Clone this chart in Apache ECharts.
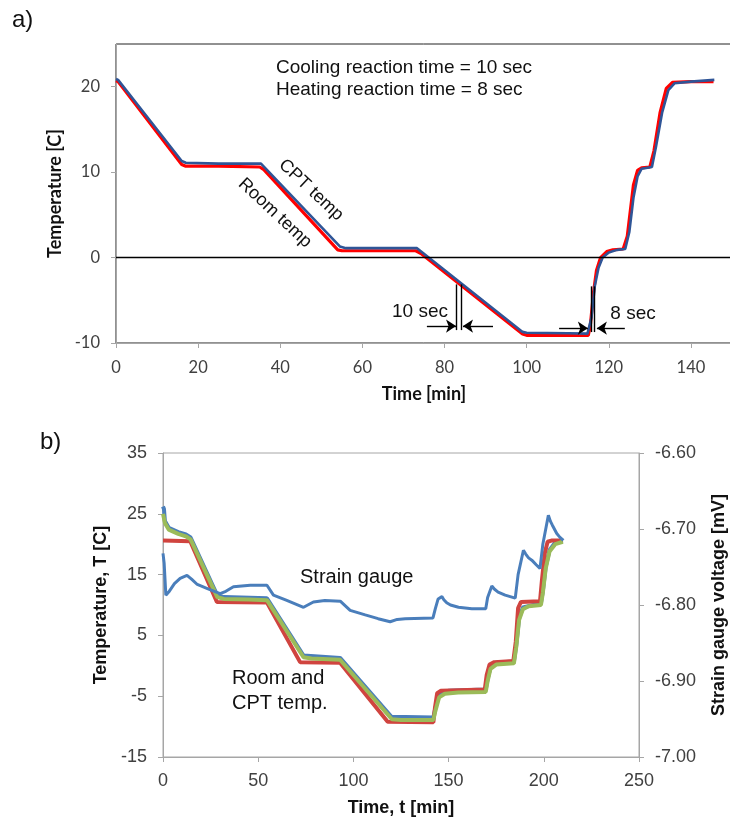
<!DOCTYPE html>
<html>
<head>
<meta charset="utf-8">
<script src="https://cdn.jsdelivr.net/npm/echarts@6/dist/echarts.min.js"></script>
<style>
  html, body { margin: 0; padding: 0; background: #fff; }
  #main { width: 730px; height: 820px; }
</style>
</head>
<body>
<div id="main"></div>
<script>
// ---- panel a) : [time min, temperature C]
var roomA = [[0,20.7],[0.5,20.6],[16,10.9],[17,10.7],[25,10.7],[35,10.6],[36,10.3],[54,0.9],[55,0.8],[73,0.8],[74.5,0.4],
  [99,-8.95],[100,-9.1],[115,-9.1],[115.5,-8],[116.3,-4],[117,-1.5],[118,0],[119.5,0.7],[121,0.9],[123.5,1.0],
  [124.5,2.5],[126,8.5],[127,10.2],[128,10.5],[130,10.6],[131,12.5],[132.5,17],[134,19.8],[135.5,20.5],[140,20.6],[145.5,20.6]];
var cptA = [[0,20.9],[0.5,20.8],[16,11.3],[17,11.1],[25,11.0],[35.3,11.0],[54.5,1.3],[56,1.1],[73.3,1.1],[99,-8.7],
  [100,-8.8],[110,-8.85],[114.8,-8.9],[115.8,-7],[116.6,-3.3],[117.5,-1.2],[118.5,0],[120,0.6],[122,0.9],[124,1.0],
  [125,3],[126,7],[127,9.5],[128,10.4],[130.5,10.6],[131.5,13],[133,17],[134.5,19.6],[136,20.4],[140,20.6],[145.7,20.8]];
// reaction-time markers (data coords)
var coolMark = { left: [75.7, 82.8], right: [91.8, 84.5], arrowY: -8.02, bars: [82.95, 84.17], barTop: -3.14, barBot: -8.49 };
var heatMark = { left: [107.9, 114.9], right: [123.9, 117.1], arrowY: -8.26, bars: [115.8, 116.5], barTop: -3.37, barBot: -8.72 };

// ---- panel b) : [time min, value]
var tempBlueB = [[0,26.2],[0.5,25.8],[1,23.8],[3,22.7],[8,22.0],[12,21.6],[14.5,21.1],[28.5,11.6],[32,11.3],[54.6,11.1],
  [73.8,1.7],[93,1.3],[120,-8.4],[142,-8.5],[143,-7],[145,-4.8],[150,-4.1],[169.5,-3.9],[170.5,-2.2],[172,-0.2],[175,0.5],
  [184.3,0.7],[185.5,3.3],[187,7.8],[189,9.6],[198.5,10.3],[199.5,12.3],[201,16.3],[203,19],[206,20.3],[210,20.6]];
var roomB = [[0,20.6],[14.3,20.5],[28.3,10.5],[54.6,10.4],[72,0.6],[93,0.5],[118,-9.2],[142,-9.3],[142.8,-7],[144,-4.5],
  [146,-4.1],[169,-3.9],[170,-1.5],[171.5,0.2],[174,0.6],[184,0.8],[185.3,4],[186.5,9.5],[188,10.5],[198,10.6],[199,14],
  [200.5,18.5],[202,20.4],[204,20.6],[210,20.6]];
var cptB = [[0,25],[1,23.5],[3,22.4],[8,21.7],[12,21.3],[14.5,20.8],[28.5,11.3],[32,11.0],[45,10.9],[54.6,10.8],[73.8,1.4],
  [78,1.2],[93,1.0],[120.2,-8.8],[125,-8.9],[142,-8.9],[143,-7.5],[145,-5.2],[148,-4.6],[155,-4.4],[169.5,-4.3],[170.5,-2.5],
  [172,-0.5],[175,0.2],[184.3,0.4],[185.5,3],[187,7.5],[189,9.3],[192,9.8],[198.5,10.0],[199.5,12],[201,16],[203,18.8],
  [206,20.0],[210,20.4]];
var strainB = [[0,-6.732],[0.6,-6.745],[1.5,-6.787],[3,-6.783],[6,-6.772],[9,-6.765],[12.6,-6.761],[15,-6.766],[18,-6.773],
  [23,-6.778],[30,-6.785],[33,-6.782],[37,-6.776],[45.8,-6.774],[54.6,-6.774],[58,-6.787],[65,-6.794],[73.8,-6.803],[79,-6.796],
  [85,-6.794],[93.1,-6.795],[98.3,-6.807],[106.2,-6.813],[113,-6.818],[119.3,-6.822],[123,-6.819],[127.2,-6.818],[141.8,-6.817],
  [143,-6.805],[144.5,-6.792],[146.5,-6.789],[147.5,-6.793],[149,-6.797],[151,-6.800],[155.2,-6.803],[162.2,-6.805],[169.5,-6.805],
  [170.5,-6.790],[172.7,-6.775],[174,-6.779],[176,-6.783],[179.7,-6.787],[185,-6.791],[186.5,-6.760],[189.3,-6.728],
  [190.5,-6.733],[192,-6.738],[193.7,-6.741],[196,-6.747],[198,-6.752],[199.5,-6.720],[202.4,-6.682],[203.5,-6.690],
  [204.5,-6.695],[206.8,-6.706],[208.5,-6.711],[210.3,-6.715]];

var gray = '#a6a6a6', txt = '#404040';
var fa = 'Lato, "Liberation Sans", sans-serif';
var fb = '"Liberation Sans", Arial, sans-serif';

function arrowLines(m) {
  var L = [];
  L.push([{ coord: [m.left[0], m.arrowY] }, { coord: [m.left[1], m.arrowY], symbol: 'arrow' }]);
  L.push([{ coord: [m.right[0], m.arrowY] }, { coord: [m.right[1], m.arrowY], symbol: 'arrow' }]);
  L.push([{ coord: [m.bars[0], m.barTop], symbol: 'none' }, { coord: [m.bars[0], m.barBot], symbol: 'none' }]);
  L.push([{ coord: [m.bars[1], m.barTop], symbol: 'none' }, { coord: [m.bars[1], m.barBot], symbol: 'none' }]);
  return L;
}

var chart = echarts.init(document.getElementById('main'));
var option = {
  animation: false,
  grid: [
    { left: 116, top: 44, width: 616, height: 299, show: true, borderColor: '#222', borderWidth: 1,
      containLabel: false, outerBoundsMode: 'none' },
    { left: 163, top: 453, width: 476, height: 304, show: true, borderColor: gray, borderWidth: 1,
      containLabel: false, outerBoundsMode: 'none' }
  ],
  xAxis: [
    { gridIndex: 0, type: 'value', min: 0, max: 150, interval: 20,
      name: 'Time [min]', nameLocation: 'middle', nameGap: 42,
      nameTextStyle: { fontFamily: fa, fontWeight: 'bold', fontSize: 18, color: '#111' },
      axisLine: { onZero: false, lineStyle: { color: gray } },
      axisTick: { length: 5, lineStyle: { color: gray } },
      axisLabel: { margin: 16, fontFamily: fa, fontSize: 16.5, color: txt, showMaxLabel: false },
      splitLine: { show: false } },
    { gridIndex: 1, type: 'value', min: 0, max: 250, interval: 50,
      name: 'Time, t [min]', nameLocation: 'middle', nameGap: 42,
      nameTextStyle: { fontFamily: fb, fontWeight: 'bold', fontSize: 18, color: '#111' },
      axisLine: { onZero: false, lineStyle: { color: gray } },
      axisTick: { length: 5, lineStyle: { color: gray } },
      axisLabel: { margin: 15, fontFamily: fb, fontSize: 18, color: txt },
      splitLine: { show: false } }
  ],
  yAxis: [
    { gridIndex: 0, type: 'value', min: -10, max: 25, interval: 10,
      name: 'Temperature [C]', nameLocation: 'middle', nameGap: 48,
      nameTextStyle: { fontFamily: fa, fontWeight: 'bold', fontSize: 18, color: '#111' },
      axisLine: { show: true, onZero: false, lineStyle: { color: gray } },
      axisTick: { show: true, length: 5, lineStyle: { color: gray } },
      axisLabel: { margin: 16, fontFamily: fa, fontSize: 16.5, color: txt, showMaxLabel: false },
      splitLine: { show: false } },
    { gridIndex: 1, type: 'value', min: -15, max: 35, interval: 10,
      name: 'Temperature, T [C]', nameLocation: 'middle', nameGap: 48,
      nameTextStyle: { fontFamily: fb, fontWeight: 'bold', fontSize: 18, color: '#111' },
      axisLine: { show: true, onZero: false, lineStyle: { color: gray } },
      axisTick: { show: true, length: 5, lineStyle: { color: gray } },
      axisLabel: { margin: 16, fontFamily: fb, fontSize: 18, color: txt },
      splitLine: { show: false } },
    { gridIndex: 1, type: 'value', position: 'right', min: -7.0, max: -6.6, interval: 0.1,
      name: 'Strain gauge voltage [mV]', nameLocation: 'middle', nameGap: 71, nameRotate: 90,
      nameTextStyle: { fontFamily: fb, fontWeight: 'bold', fontSize: 18, color: '#111' },
      axisLine: { show: true, onZero: false, lineStyle: { color: gray } },
      axisTick: { show: true, length: 5, lineStyle: { color: gray } },
      axisLabel: { margin: 16, fontFamily: fb, fontSize: 18, color: txt,
        formatter: function (v) { return v.toFixed(2); } },
      splitLine: { show: false } }
  ],
  series: [
    { name: 'Room temp', type: 'line', xAxisIndex: 0, yAxisIndex: 0, data: roomA, showSymbol: false,
      lineStyle: { color: '#ff0000', width: 3.2 },
      markLine: { silent: true, symbol: ['none', 'none'], symbolSize: 10, label: { show: false },
        lineStyle: { color: '#000', width: 1.4, type: 'solid' },
        data: [[{ yAxis: 0, x: 116 }, { yAxis: 0, x: 730 }]].concat(arrowLines(coolMark)) } },
    { name: 'CPT temp', type: 'line', xAxisIndex: 0, yAxisIndex: 0, data: cptA, showSymbol: false,
      lineStyle: { color: '#2f5597', width: 2.6 },
      markLine: { silent: true, symbol: ['none', 'none'], symbolSize: 10, label: { show: false },
        lineStyle: { color: '#000', width: 1.4, type: 'solid' },
        data: arrowLines(heatMark) } },
    { name: 'CPT blue', type: 'line', xAxisIndex: 1, yAxisIndex: 1, data: tempBlueB, showSymbol: false,
      lineStyle: { color: '#4a7ebb', width: 4 } },
    { name: 'Room', type: 'line', xAxisIndex: 1, yAxisIndex: 1, data: roomB, showSymbol: false,
      lineStyle: { color: '#d0443f', width: 4 } },
    { name: 'CPT', type: 'line', xAxisIndex: 1, yAxisIndex: 1, data: cptB, showSymbol: false,
      lineStyle: { color: '#9bbb59', width: 4 } },
    { name: 'Strain gauge', type: 'line', xAxisIndex: 1, yAxisIndex: 2, data: strainB, showSymbol: false,
      lineStyle: { color: '#4a7ebb', width: 3 } }
  ],
  graphic: [
    { type: 'text', left: 12, top: 8, style: { text: 'a)', font: '24px ' + fb, fill: '#111' } },
    { type: 'text', left: 40, top: 430, style: { text: 'b)', font: '24px ' + fb, fill: '#111' } },
    { type: 'text', left: 276, top: 58, style: { text: 'Cooling reaction time = 10 sec', font: '19px ' + fb, fill: '#111' } },
    { type: 'text', left: 276, top: 80, style: { text: 'Heating reaction time = 8 sec', font: '19px ' + fb, fill: '#111' } },
    { type: 'text', x: 311, y: 190, rotation: -43 * Math.PI / 180,
      style: { text: 'CPT temp', font: '18px ' + fb, fill: '#111', align: 'center', verticalAlign: 'middle' } },
    { type: 'text', x: 275, y: 213, rotation: -43 * Math.PI / 180,
      style: { text: 'Room temp', font: '18px ' + fb, fill: '#111', align: 'center', verticalAlign: 'middle' } },
    { type: 'text', x: 420, y: 312, style: { text: '10 sec', font: '19px ' + fb, fill: '#111', align: 'center', verticalAlign: 'middle' } },
    { type: 'text', x: 633, y: 314, style: { text: '8 sec', font: '19px ' + fb, fill: '#111', align: 'center', verticalAlign: 'middle' } },
    { type: 'text', left: 300, top: 567, style: { text: 'Strain gauge', font: '20px ' + fb, fill: '#111' } },
    { type: 'text', left: 232, top: 666, style: { text: 'Room and\nCPT temp.', font: '20px ' + fb, fill: '#111', lineHeight: 25 } }
  ]
};
chart.setOption(option);
</script>
</body>
</html>
